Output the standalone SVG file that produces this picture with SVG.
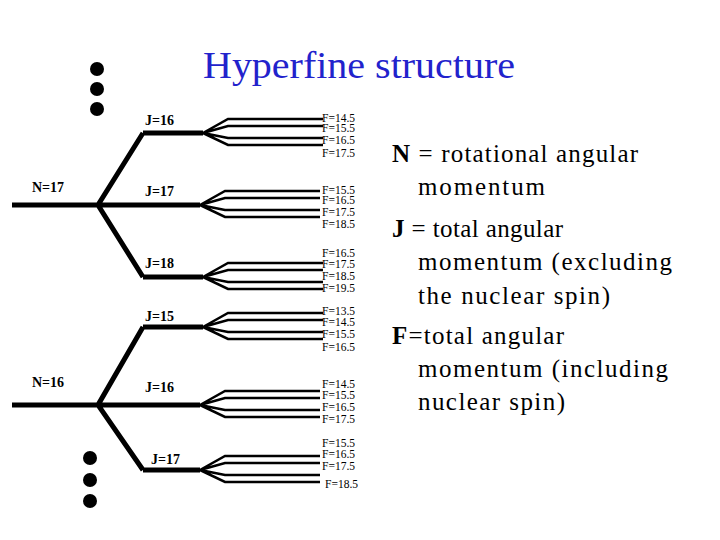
<svg xmlns="http://www.w3.org/2000/svg" width="720" height="540" viewBox="0 0 720 540">
<style>
.t{stroke:#000;stroke-width:5;fill:none;stroke-linejoin:miter}
.f{stroke:#000;stroke-width:2.5;fill:none}
.l{font-family:"Liberation Serif",serif;font-size:14px;font-weight:bold}
.fl{font-family:"Liberation Serif",serif;font-size:11.5px}
</style>
<defs>
<g id="fan"><path class="f" d="M0 0L25-14H120M0 0L25-7H120M0 0L25 5H120M0 0L25 12H120"/></g>
</defs>
<rect width="720" height="540" fill="#fff"/>
<text x="203" y="78" textLength="312" lengthAdjust="spacingAndGlyphs" font-family="Liberation Serif,serif" font-size="38" fill="#2222cc">Hyperfine structure</text>
<g id="dots"><circle cx="97" cy="69" r="7"/><circle cx="97" cy="89" r="7"/><circle cx="97" cy="109" r="7"/><circle cx="90" cy="458" r="7"/><circle cx="90" cy="480" r="7"/><circle cx="90" cy="501" r="7"/></g>
<g id="connectors">
<path class="t" d="M12 205H200M143 133L98 205L143 277M143 133H203M143 277H203"/>
<use href="#fan" x="203" y="133"/><use href="#fan" x="200" y="205"/><use href="#fan" x="203" y="277"/>
<path class="t" d="M12 405H200M143 327L98 405L143 470M143 327H203M143 470H200"/>
<use href="#fan" x="203" y="327"/><use href="#fan" x="200" y="405"/><use href="#fan" x="200" y="470"/>
</g>
<g id="N17"><text class="l" x="32" y="192">N=17</text></g>
<g id="N16"><text class="l" x="32" y="387">N=16</text></g>
<g id="J16a"><text class="l" x="145" y="125">J=16</text></g>
<g id="J17a"><text class="l" x="145" y="196">J=17</text></g>
<g id="J18a"><text class="l" x="145" y="268">J=18</text></g>
<g id="J15b"><text class="l" x="145" y="321">J=15</text></g>
<g id="J16b"><text class="l" x="145" y="392">J=16</text></g>
<g id="J17b"><text class="l" x="151" y="464">J=17</text></g>
<g id="F1" class="fl"><text x="322" y="122">F=14.5</text><text x="322" y="132">F=15.5</text><text x="322" y="144">F=16.5</text><text x="322" y="157">F=17.5</text></g>
<g id="F2" class="fl"><text x="322" y="194">F=15.5</text><text x="322" y="204">F=16.5</text><text x="322" y="216">F=17.5</text><text x="322" y="228">F=18.5</text></g>
<g id="F3" class="fl"><text x="322" y="257">F=16.5</text><text x="322" y="268">F=17.5</text><text x="322" y="280">F=18.5</text><text x="322" y="292">F=19.5</text></g>
<g id="F4" class="fl"><text x="322" y="315">F=13.5</text><text x="322" y="326">F=14.5</text><text x="322" y="338">F=15.5</text><text x="322" y="351">F=16.5</text></g>
<g id="F5" class="fl"><text x="322" y="388">F=14.5</text><text x="322" y="399">F=15.5</text><text x="322" y="411">F=16.5</text><text x="322" y="423">F=17.5</text></g>
<g id="F6" class="fl"><text x="322" y="447">F=15.5</text><text x="322" y="458">F=16.5</text><text x="322" y="470">F=17.5</text><text x="325" y="488">F=18.5</text></g>
<g id="legend" font-family="Liberation Serif,serif" font-size="25">
<text x="392" y="162" textLength="246" lengthAdjust="spacing"><tspan font-weight="bold">N</tspan> = rotational angular</text>
<text x="418" y="195" textLength="127" lengthAdjust="spacing">momentum</text>
<text x="392" y="237" textLength="171" lengthAdjust="spacing"><tspan font-weight="bold">J</tspan> = total angular</text>
<text x="418" y="270" textLength="254" lengthAdjust="spacing">momentum (excluding</text>
<text x="418" y="304" textLength="192" lengthAdjust="spacing">the nuclear spin)</text>
<text x="392" y="344" textLength="172" lengthAdjust="spacing"><tspan font-weight="bold">F</tspan>=total angular</text>
<text x="418" y="377" textLength="250" lengthAdjust="spacing">momentum (including</text>
<text x="418" y="410" textLength="147" lengthAdjust="spacing">nuclear spin)</text>
</g>
</svg>
